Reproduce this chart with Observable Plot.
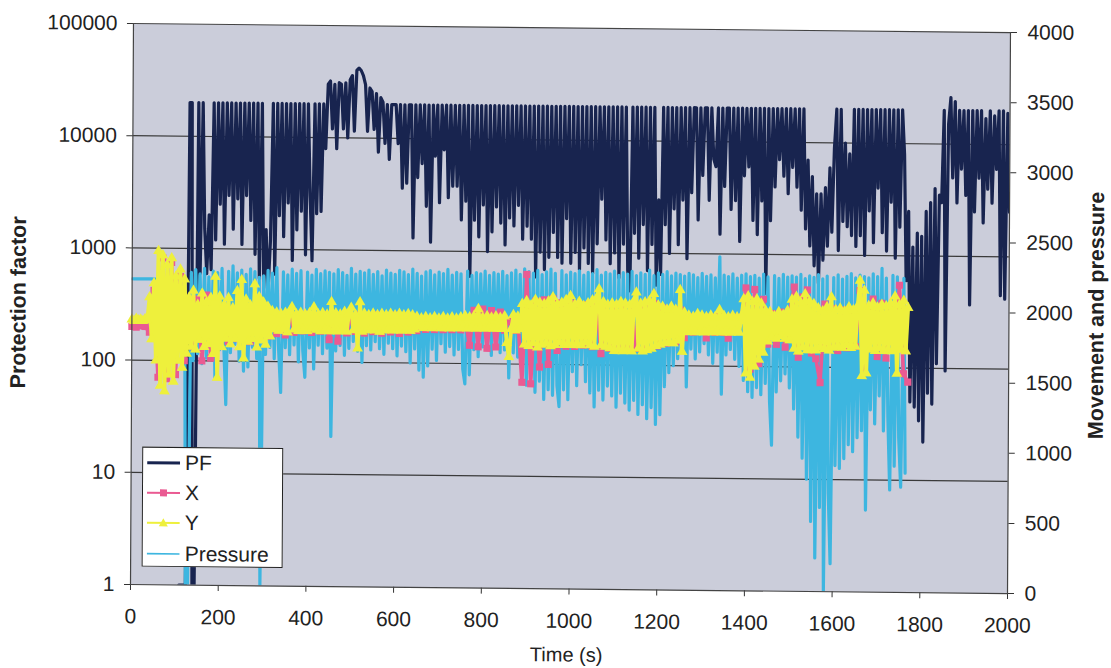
<!DOCTYPE html>
<html>
<head>
<meta charset="utf-8">
<script src="https://cdn.jsdelivr.net/npm/d3@7"></script>
<script src="https://cdn.jsdelivr.net/npm/@observablehq/plot@0.6"></script>
<style>
  body { margin: 0; background: #fff; }
  #fig {
    position: relative; width: 1111px; height: 668px; overflow: hidden;
    font-family: "Liberation Sans", Arial, sans-serif; color: #222;
    transform-origin: 568px 307px;
    transform: matrix(1, 0.0103, -0.0053, 1, 0, 0);
  }
  #fig svg { position: absolute; left: 0; top: 0; }
  .title { position: absolute; white-space: nowrap; font-size: 21.5px; font-weight: bold; transform: translate(-50%, -50%) rotate(-90deg); }
  .xtitle { position: absolute; white-space: nowrap; font-size: 20px; transform: translate(-50%, -50%); }
  #legend { position: absolute; left: 143px; top: 451px; width: 139px; height: 118px; background: #fff; border: 1.3px solid #222; }
  #legend .row { position: absolute; left: 0; height: 28px; display: flex; align-items: center; font-size: 21px; }
  #legend svg { position: static; margin-left: 4px; margin-right: 5px; }
</style>
</head>
<body>
<div id="fig"></div>
<script>
// Axis ticks
const timeTicks = [0, 200, 400, 600, 800, 1000, 1200, 1400, 1600, 1800, 2000];
const pfTicks = [1, 10, 100, 1000, 10000, 100000];
const rightTicks = [0, 500, 1000, 1500, 2000, 2500, 3000, 3500, 4000];

// Series names and colours
const seriesNames = ["PF", "X", "Y", "Pressure"];
const colors = { PF: "#18244f", X: "#ea5a92", Y: "#eef03c", Pressure: "#3db6e0" };

// Protection factor, sampled every 5 s from t = 110 s
const pfStart = 110, pfStep = 5;
const pfValues = [
  1, 1, 1, 1, 20000, 20000, 1, 1, 20000, 600,
  20000, 1500, 600, 2000, 650, 20000, 1200, 20000, 2500, 20000,
  1100, 20000, 3000, 20000, 1500, 20000, 2800, 20000, 1100, 20000,
  3000, 20000, 1800, 20000, 900, 20000, 550, 20000, 450, 1500,
  420, 1200, 20000, 600, 20000, 2000, 20000, 1300, 20000, 2600,
  20000, 800, 20000, 1500, 20000, 2200, 20000, 900, 20000, 3000,
  800, 20000, 2100, 20000, 2200, 20000, 8000, 30000, 32000, 12000,
  30000, 8000, 31000, 30000, 12000, 31000, 10000, 33000, 36000, 11500,
  40000, 42000, 40000, 36000, 30000, 11500, 28000, 26000, 12000, 25000,
  7500, 23000, 21000, 9000, 20000, 6500, 20000, 20000, 20000, 9000,
  20000, 3600, 20000, 4000, 20000, 20000, 1300, 20000, 4500, 20000,
  6000, 20000, 2500, 20000, 1200, 20000, 7000, 20000, 2700, 20000,
  8000, 20000, 3000, 20000, 3800, 20000, 3800, 20000, 1900, 20000,
  2800, 20000, 600, 20000, 1900, 20000, 1350, 20000, 2600, 20000,
  1000, 20000, 1500, 20000, 2500, 20000, 1800, 20000, 1150, 20000,
  2000, 20000, 1700, 20000, 2600, 20000, 1300, 20000, 1700, 20000,
  1300, 20000, 600, 20000, 1000, 20000, 700, 20000, 900, 20000,
  1500, 20000, 900, 20000, 800, 20000, 2000, 20000, 800, 20000,
  1000, 20000, 700, 20000, 1100, 20000, 800, 20000, 650, 20000,
  1200, 20000, 3000, 20000, 1300, 20000, 800, 20000, 1000, 20000,
  600, 20000, 1200, 20000, 700, 460, 20000, 1500, 20000, 900,
  20000, 1800, 20000, 700, 20000, 1200, 20000, 520, 3000, 650,
  20000, 1800, 20000, 1000, 20000, 2500, 20000, 1200, 20000, 3000,
  20000, 900, 20000, 3500, 20000, 20000, 2000, 20000, 5000, 20000,
  20000, 3000, 20000, 7000, 6000, 20000, 1500, 20000, 4000, 20000,
  20000, 2500, 20000, 3000, 20000, 1300, 20000, 5000, 20000, 6000,
  20000, 2000, 20000, 1500, 20000, 3000, 20000, 450, 20000, 2000,
  20000, 4000, 20000, 7000, 20000, 5000, 20000, 3500, 20000, 6000,
  20000, 4000, 20000, 2500, 20000, 1700, 7000, 1200, 5000, 800,
  3500, 560, 3500, 900, 4000, 1200, 6000, 1600, 9000, 20000,
  1100, 20000, 2000, 10000, 1800, 8000, 1500, 20000, 1200, 20000,
  1500, 20000, 1000, 20000, 2500, 20000, 1300, 20000, 4000, 20000,
  1600, 20000, 1100, 20000, 3000, 20000, 950, 20000, 1800, 20000,
  8000, 600, 2500, 50, 1200, 45, 1600, 34, 1500, 22,
  2500, 60, 3000, 48, 4000, 110, 3500, 3000, 20000, 95,
  15000, 26000, 5000, 24000, 3000, 20000, 6000, 20000, 3500, 20000,
  370, 20000, 2500, 20000, 5000, 20000, 2000, 17000, 4000, 20000,
  3000, 18000, 6000, 20000, 450, 20000, 420, 19000, 2500
];

// Pressure, sampled every 5 s from t = 0 s
const pressureStart = 0, pressureStep = 5;
const pressureValues = [
  2180, 2180, 2180, 2180, 2180, 2180, 2180, 2180, 2180, 2180,
  2180, 2180, 2180, 2180, 2180, 2180, 2180, 2180, 2180, 2180,
  2180, 2180, 2180, 2180, 2180, 0, 0, 2230, 1600, 2250,
  1650, 2220, 1580, 2260, 1620, 2200, 1650, 2240, 1480, 2230,
  1680, 2260, 1700, 1290, 2240, 1660, 2280, 1720, 2230, 1600,
  2250, 1530, 2220, 1560, 2260, 1700, 2240, 1620, 2200, 0,
  2210, 1650, 2250, 1700, 2230, 1620, 2270, 1680, 1380, 2240,
  1700, 2220, 1650, 2260, 1720, 2230, 1600, 2250, 1680, 1490,
  2240, 1700, 2220, 1550, 2260, 1720, 2230, 1660, 2250, 1700,
  2240, 1070, 2230, 1680, 2260, 1720, 2240, 1650, 2220, 1700,
  2270, 1750, 2230, 1680, 2250, 1600, 2240, 1720, 2260, 1690,
  2230, 1750, 2250, 1700, 2220, 1660, 2260, 1740, 2240, 1700,
  2230, 1650, 2260, 1720, 2250, 1680, 2230, 1600, 2270, 1700,
  2240, 1550, 2220, 1500, 2250, 1580, 2260, 1700, 2230, 1620,
  2250, 1740, 2240, 1680, 2270, 1720, 2230, 1660, 2250, 1700,
  2240, 1560, 1455, 2260, 1520, 2230, 1700, 2250, 1650, 2240,
  1720, 2260, 1700, 2230, 1660, 2250, 1720, 2240, 1680, 2260,
  1700, 2230, 1500, 2250, 1680, 2270, 1650, 2240, 1520, 2280,
  1450, 2260, 1500, 2250, 1400, 2270, 1480, 2240, 1350, 2260,
  1420, 2280, 1380, 2250, 1450, 1300, 2270, 1420, 2240, 1350,
  2260, 1550, 2250, 1450, 2270, 1600, 2240, 1480, 2260, 1400,
  2250, 1300, 2280, 1420, 2240, 1350, 2260, 1450, 2250, 1380,
  2270, 1300, 2240, 1400, 2260, 1330, 2250, 1280, 2270, 1350,
  2240, 1250, 2260, 1320, 2250, 1220, 2280, 1300, 2240, 1180,
  2260, 1250, 2250, 1450, 2270, 1550, 2240, 1600, 2260, 1650,
  2250, 1700, 2240, 1450, 2260, 1720, 2250, 1650, 2230, 1700,
  2260, 1760, 2240, 1680, 2250, 1620, 2230, 1700, 2380, 1400,
  2250, 1680, 2240, 1720, 2260, 1650, 2230, 1600, 2250, 1500,
  2260, 1420, 2240, 1380, 2250, 1450, 2230, 1400, 2260, 1480,
  2240, 1350, 1040, 2250, 1420, 2230, 1500, 2260, 1550, 2240,
  1450, 2250, 1300, 2240, 1100, 2260, 950, 2230, 800, 2250,
  500, 2240, 240, 2260, 600, 2230, 0, 2250, 700, 200,
  2240, 900, 2260, 880, 2230, 950, 2250, 1050, 2270, 1000,
  2240, 1100, 2260, 1150, 2250, 585, 2240, 1300, 2270, 1200,
  2250, 1400, 2310, 1150, 2240, 1250, 730, 2260, 900, 2250,
  1100, 750, 2240, 850
];

// Movement Y, sampled every 5 s from t = 0 s
const yStart = 0, yStep = 5;
const yValues = [
  1890, 1880, 1895, 1885, 1890, 1880, 1895, 1885, 2050, 1750,
  2150, 1600, 2380, 1420, 2350, 1380, 2280, 1500, 2330, 1450,
  2200, 1600, 2250, 1550, 2180, 1650, 2050, 1700, 2100, 1680,
  2000, 1750, 2080, 1700, 2020, 1720, 2050, 1650, 2200, 1480,
  2060, 1700, 2000, 1760, 2050, 1720, 1980, 1760, 2100, 1700,
  2180, 1620, 2040, 1740, 2000, 1760, 2150, 1700, 2060, 1750,
  2020, 1720, 1990, 1780, 1960, 1830, 1950, 1820, 1940, 1830,
  1950, 1810, 1960, 1990, 1830, 1940, 1820, 1950, 1830, 1940,
  1820, 1950, 1840, 1990, 1830, 1940, 1820, 1950, 1830, 1940,
  1820, 2030, 1830, 1950, 1820, 1940, 1830, 1960, 1820, 1950,
  1990, 1830, 1940, 1700, 2030, 1820, 1950, 1830, 1940, 1840,
  1950, 1830, 1940, 1820, 1950, 1830, 1940, 1840, 1950, 1830,
  1940, 1840, 1950, 1830, 1940, 1840, 1950, 1830, 1940, 1840,
  1930, 1860, 1920, 1850, 1930, 1860, 1920, 1850, 1930, 1860,
  1920, 1850, 1930, 1860, 1920, 1850, 1930, 1860, 1920, 1850,
  1930, 1860, 1940, 1850, 1930, 1860, 1940, 1850, 1990, 1860,
  1930, 1850, 1940, 1860, 1930, 1850, 1940, 1860, 1930, 1850,
  1940, 1750, 1650, 1850, 1950, 1840, 1940, 1850, 2030, 1740,
  2050, 1730, 2020, 1750, 2060, 1720, 2040, 1740, 2030, 1750,
  2050, 1730, 2080, 1740, 2030, 1760, 2040, 1740, 2060, 1750,
  2090, 1740, 2030, 1750, 2050, 1740, 2020, 1760, 2040, 1740,
  2060, 1730, 2080, 2140, 1740, 2050, 1730, 2030, 1720, 2040,
  1700, 2030, 1710, 2050, 1700, 2040, 1710, 2030, 1700, 2060,
  2120, 1720, 2040, 1700, 2050, 1710, 2060, 1720, 2110, 1740,
  2030, 1750, 2020, 1760, 2000, 1770, 2020, 1760, 2000, 1780,
  2140, 1700, 1980, 1840, 1960, 1850, 1950, 1840, 1970, 1850,
  1960, 1840, 1950, 1850, 1960, 1840, 1950, 1850, 2000, 1840,
  1960, 1850, 1950, 1840, 1960, 1850, 1950, 1840, 1960, 2080,
  1550, 2100, 1520, 2060, 1600, 2080, 1650, 2050, 1700, 2000,
  1780, 1990, 1810, 1960, 1800, 1990, 1820, 1970, 1800, 2000,
  1790, 2080, 1730, 2100, 1710, 2060, 1740, 2120, 1720, 2070,
  1730, 2050, 1720, 2020, 1740, 2000, 1730, 2030, 1720, 2100,
  1740, 2010, 1750, 2020, 1740, 2000, 1760, 2030, 1740, 2010,
  1750, 2040, 2220, 1540, 2150, 1560, 2040, 1730, 2060, 1720,
  2030, 1740, 2050, 1720, 2040, 1730, 2060, 1720, 2110, 1560,
  2050, 1730, 2080, 1720, 2030
];

// Movement X, sampled every 10 s from t = 0 s
const xStart = 0, xStep = 10;
const xValues = [
  1840, 1835, 1845, 1840, 1800, 2100, 1480, 2330, 1470, 2300,
  1500, 2200, 1600, 2000, 1700, 2040, 1600, 2070, 1620, 2000,
  1720, 1980, 1740, 1960, 1760, 1980, 1760, 1740, 1960, 1770,
  1950, 1780, 1950, 1800, 1930, 1790, 1940, 1810, 1930, 1820,
  1940, 1810, 1930, 1820, 1940, 1760, 1930, 1750, 1940, 1810,
  1930, 1820, 1940, 1810, 1930, 1820, 1940, 1810, 1930, 1820,
  1940, 1810, 1930, 1820, 1930, 1830, 1910, 1840, 1910, 1840,
  1910, 1840, 1910, 1840, 1910, 1840, 1920, 1730, 1980, 1720,
  1990, 1710, 1980, 1720, 1970, 1840, 1910, 1840, 1920, 1470,
  2240, 1460, 2050, 1580, 2060, 1600, 2070, 1700, 2040, 1730,
  2040, 1730, 2030, 1740, 2030, 1730, 2040, 1680, 2030, 1720,
  2020, 1710, 2030, 1720, 2020, 1720, 2030, 1720, 2050, 2040,
  1740, 2010, 1760, 2000, 1770, 2000, 1800, 1950, 1840, 1940,
  1940, 1800, 1950, 1840, 1960, 1840, 1800, 1950, 1850, 1950,
  2160, 1580, 2150, 1620, 2080, 1760, 1980, 1760, 1990, 1740,
  2000, 2170, 1670, 2100, 2150, 1700, 1660, 1490, 2050, 1740,
  2020, 1720, 2010, 1740, 2000, 1750, 2150, 1600, 2030, 2090,
  1680, 2060, 1670, 2020, 1730, 2190, 1560, 1500
];

const toRows = (start, step, values) => values.map((v, i) => ({ t: start + i * step, v }));
const pf = toRows(pfStart, pfStep, pfValues);
const pressure = toRows(pressureStart, pressureStep, pressureValues);
const moveY = toRows(yStart, yStep, yValues);
const moveX = toRows(xStart, xStep, xValues);

const W = 1111, H = 668;
const margins = { marginTop: 27.5, marginRight: 102.5, marginBottom: 79.5, marginLeft: 131.5 };
const baseStyle = { background: "transparent", fontFamily: "'Liberation Sans', Arial, sans-serif", fontSize: "21px", color: "#222", overflow: "visible" };
const intFormat = d3.format("d");

// Back layer: plot area, log-scale grid, PF trace, left and bottom axes
const pfChart = Plot.plot({
  width: W, height: H, ...margins, style: baseStyle,
  x: { domain: [0, 2000] },
  y: { type: "log", domain: [1, 100000] },
  marks: [
    Plot.frame({ fill: "#cbcdda", stroke: null }),
    Plot.ruleY([10, 100, 1000, 10000], { stroke: "#3a3a3a", strokeWidth: 1.2 }),
    Plot.line(pf, { x: "t", y: "v", stroke: colors.PF, strokeWidth: 3.2, clip: true }),
    Plot.axisY({ ticks: pfTicks, anchor: "left", tickSize: 6, tickPadding: 10, tickFormat: intFormat, label: null, stroke: "#333" }),
    Plot.axisX({ ticks: timeTicks, anchor: "bottom", tickSize: 6, tickPadding: 18, tickFormat: intFormat, label: null, stroke: "#333" })
  ]
});

// Front layer: pressure and movement on the linear right-hand axis
const moveChart = Plot.plot({
  width: W, height: H, ...margins, style: baseStyle,
  x: { domain: [0, 2000], axis: null },
  y: { domain: [0, 4000] },
  marks: [
    Plot.line(pressure, { x: "t", y: "v", stroke: colors.Pressure, strokeWidth: 3.2, clip: true }),
    Plot.line(moveX, { x: "t", y: "v", stroke: colors.X, strokeWidth: 3.6 }),
    Plot.dot(moveX, { x: "t", y: "v", symbol: "square", r: 4, fill: colors.X }),
    Plot.line(moveY, { x: "t", y: "v", stroke: colors.Y, strokeWidth: 3.8 }),
    Plot.dot(moveY, { x: "t", y: "v", symbol: "triangle", r: 4, fill: colors.Y }),
    Plot.axisY({ ticks: rightTicks, anchor: "right", tickSize: 6, tickPadding: 11, tickFormat: intFormat, label: null, stroke: "#333" }),
    Plot.frame({ stroke: "#444", strokeWidth: 1.2 })
  ]
});

const fig = document.getElementById("fig");
fig.append(pfChart, moveChart);

// Axis titles
function addText(cls, text, x, y) {
  const d = document.createElement("div");
  d.className = cls; d.textContent = text;
  d.style.left = x + "px"; d.style.top = y + "px";
  fig.append(d);
}
addText("title", "Protection factor", 19, 308);
addText("title", "Movement and pressure", 1097, 310);
addText("xtitle", "Time (s)", 568, 655);

// Legend
const legend = document.createElement("div");
legend.id = "legend";
const rowTops = [1, 31, 61, 92];
seriesNames.forEach((name, i) => {
  const row = document.createElement("div");
  row.className = "row";
  row.style.top = rowTops[i] + "px";
  const c = colors[name];
  let marker = "";
  if (name === "X") marker = `<rect x="13" y="6.5" width="7" height="7" fill="${c}"/>`;
  if (name === "Y") marker = `<path d="M16.5,5.5 L21,13.5 L12,13.5 Z" fill="${c}"/>`;
  const sw = name === "PF" ? 3 : name === "Pressure" ? 1.6 : 2;
  row.innerHTML = `<svg width="33" height="20"><line x1="0" y1="10" x2="33" y2="10" stroke="${c}" stroke-width="${sw}"/>${marker}</svg><span>${name}</span>`;
  legend.append(row);
});
fig.append(legend);
</script>
</body>
</html>
